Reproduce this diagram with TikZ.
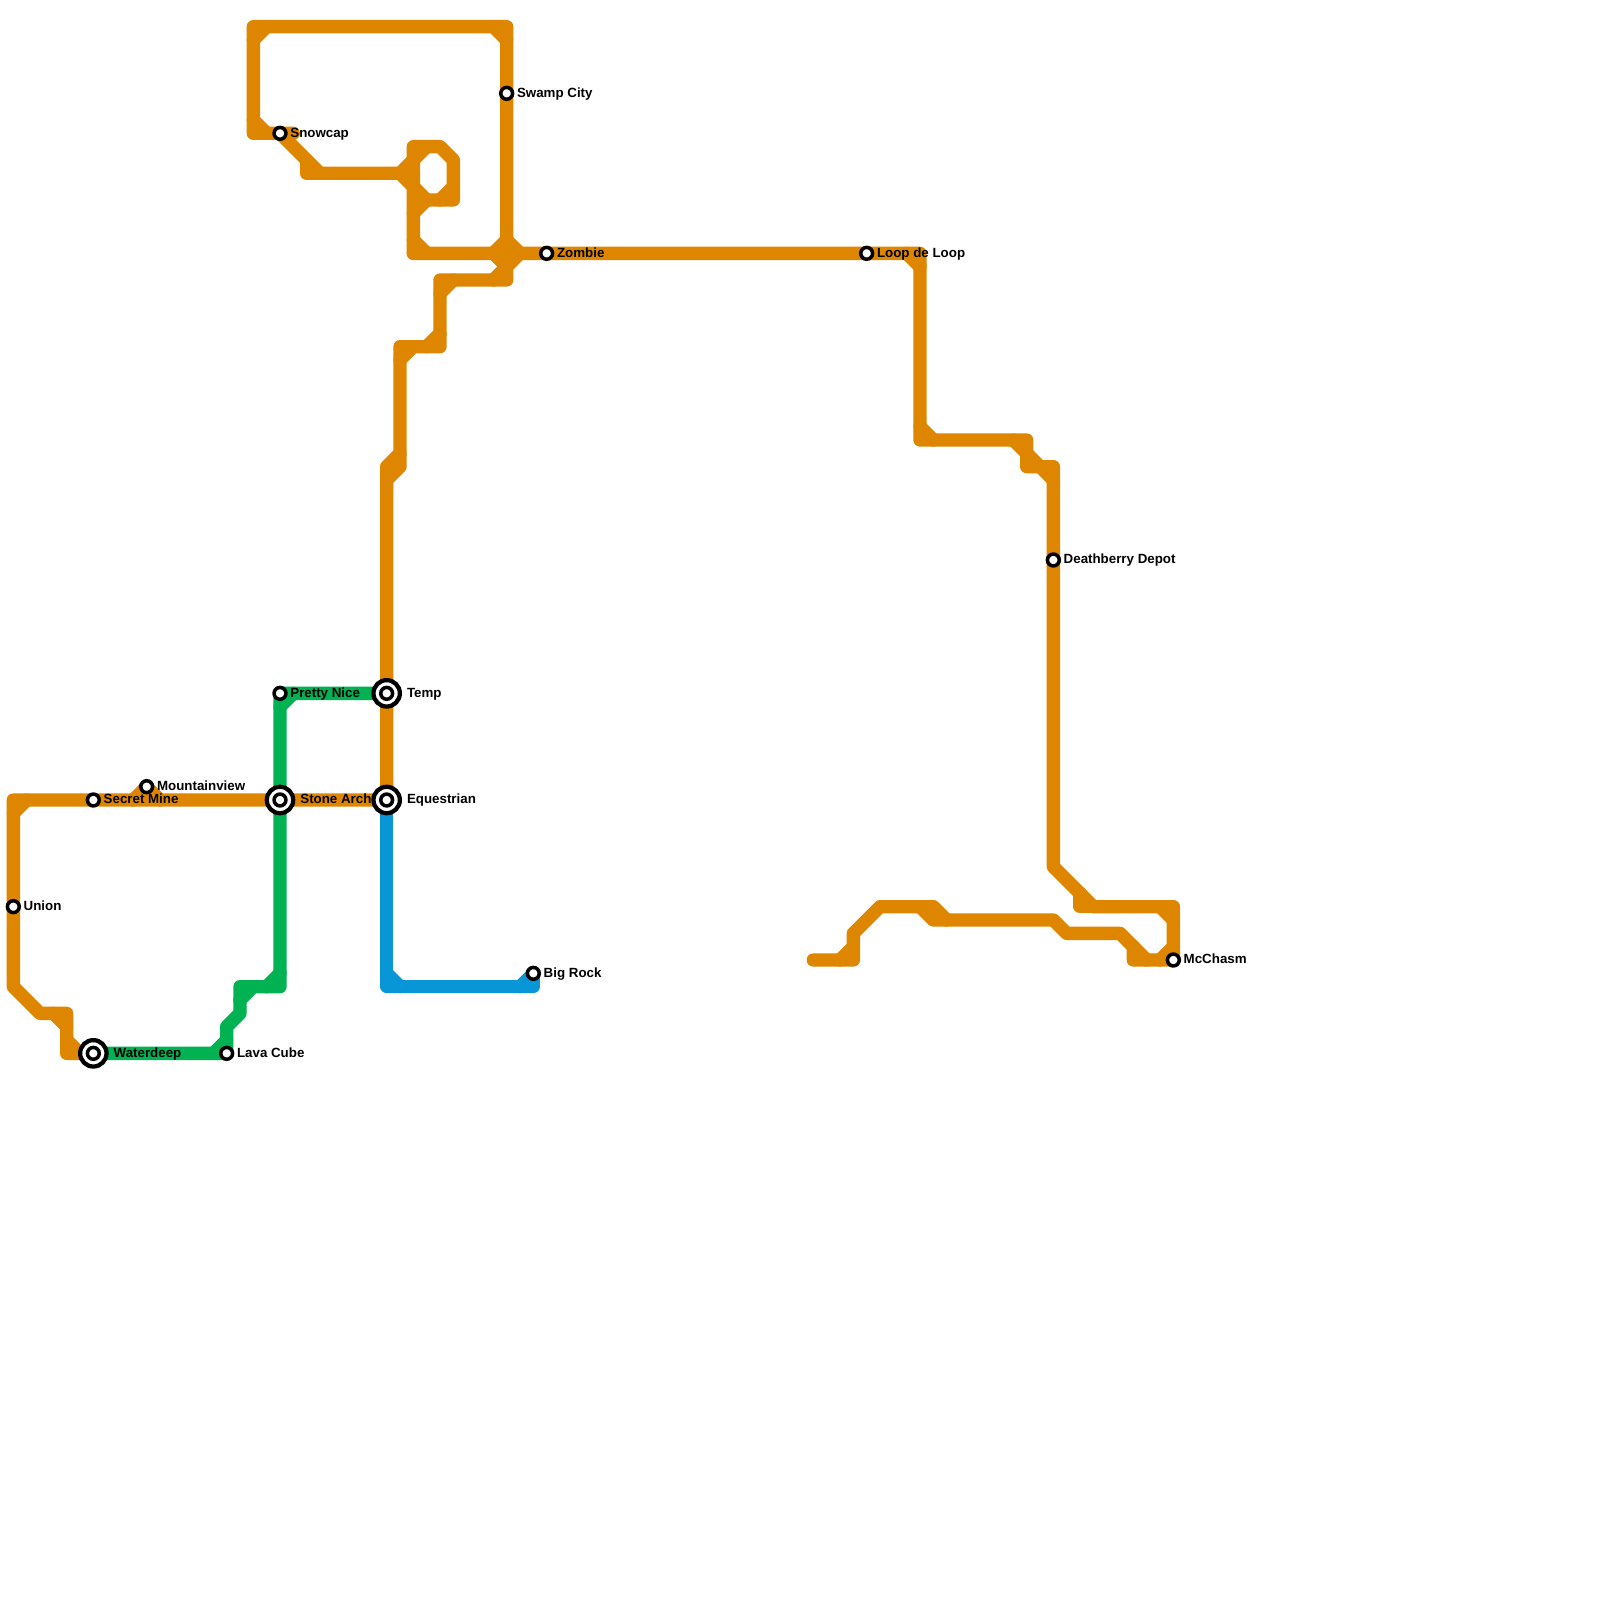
\documentclass[tikz,border=0pt]{standalone}
\usepackage{fontspec}
\setmainfont{Liberation Sans}
\usetikzlibrary{backgrounds}

\definecolor{Orange}{HTML}{DF8600}
\definecolor{Green}{HTML}{00B251}
\definecolor{Blue}{HTML}{0896D7}
\tikzstyle{Rail} = [line width=0.25cm,
                     line cap=round,
                     line join=round]
\tikzstyle{Stop} = [draw=black,
                     fill=white,
                     circle,
                     line width=0.066cm,
                     inner sep=0pt,
                     minimum size=0.222cm]
\tikzstyle{Hub} = [draw=black,
                     fill=white,
                     circle,
                     line width=0.08cm,
                     inner sep=0pt,
                     minimum size=0.495cm]
\tikzstyle{Name} = [anchor=base west,
                     inner sep=0pt,
                     text=black,
                     font=\bfseries\fontsize{7.11}{8}\selectfont]

\begin{document}
\begin{tikzpicture}[x=0.25cm, y=-0.25cm]

    \useasboundingbox (0, 0) rectangle (120, 120);

    % Stations
    \node (union) at (1, 68) [Stop]{};
    \node (secretMine) at (7, 60) [Stop]{};
    \node (mountainview) at (11, 59) [Stop]{};
    \node (snowcap) at (21, 10) [Stop]{};
    \node (lavaCube) at (17, 79) [Stop]{};
    \node (prettyNice) at (21, 52) [Stop]{};
    \node (bigRock) at (40, 73) [Stop]{};
    \node (swampCity) at (38, 7) [Stop]{};
    \node (zombie) at (41, 19) [Stop]{};
    \node (loopDeLoop) at (65, 19) [Stop]{};
    \node (deathberry) at (79, 42) [Stop]{};
    \node (mcChasm) at (88, 72) [Stop]{};

    % Interchanges
    \node (waterdeep) at (7, 79) [Hub]{};
    \node (stoneArch) at (21, 60) [Hub]{};
    \node (temp) at (29, 52) [Hub]{};
    \node (equestrian) at (29, 60) [Hub]{};
    \node (waterdeepCore) at (7, 79) [Stop]{};
    \node (stoneArchCore) at (21, 60) [Stop]{};
    \node (tempCore) at (29, 52) [Stop]{};
    \node (equestrianCore) at (29, 60) [Stop]{};

    % Labels
    \node (unionName) at (1.75, 68.28) [Name]{Union};
    \node (secretMineName) at (7.75, 60.28) [Name]{Secret Mine};
    \node (mountainviewName) at (11.75, 59.28) [Name]{Mountainview};
    \node (snowcapName) at (21.75, 10.28) [Name]{Snowcap};
    \node (lavaCubeName) at (17.75, 79.28) [Name]{Lava Cube};
    \node (prettyNiceName) at (21.75, 52.28) [Name]{Pretty Nice};
    \node (bigRockName) at (40.75, 73.28) [Name]{Big Rock};
    \node (swampCityName) at (38.75, 7.28) [Name]{Swamp City};
    \node (zombieName) at (41.75, 19.28) [Name]{Zombie};
    \node (loopDeLoopName) at (65.75, 19.28) [Name]{Loop de Loop};
    \node (deathberryName) at (79.75, 42.28) [Name]{Deathberry Depot};
    \node (mcChasmName) at (88.75, 72.28) [Name]{McChasm};
    \node (waterdeepName) at (8.5, 79.28) [Name]{Waterdeep};
    \node (stoneArchName) at (22.5, 60.28) [Name]{Stone Arch};
    \node (tempName) at (30.5, 52.28) [Name]{Temp};
    \node (equestrianName) at (30.5, 60.28) [Name]{Equestrian};

    \begin{scope}[on background layer]

    % Orange line, west side
    \draw [Rail, Orange] (waterdeep.center) -- (5, 79) -- (5, 76) -- (3, 76) -- (1, 74) -- (union.center) -- (1, 60)
        -- (secretMine.center) -- (stoneArch.center) -- (equestrian.center) -- (temp.center) -- (29, 36) -- (30, 35)
        -- (30, 26) -- (33, 26) -- (33, 21) -- (38, 21) -- (swampCity.center) -- (38, 2) -- (19, 2) -- (19, 10)
        -- (snowcap.center) -- (22, 10);
    \draw [Rail, Orange] (4, 76) -- (5, 77);
    \draw [Rail, Orange] (5, 78) -- (6, 79);
    \draw [Rail, Orange] (1, 61) -- (2, 60);
    \draw [Rail, Orange] (10, 60) -- (mountainview.center) -- (12, 60);
    \draw [Rail, Orange] (30, 34) -- (29, 35) -- (29, 36);
    \draw [Rail, Orange] (30, 27) -- (31, 26);
    \draw [Rail, Orange] (32, 26) -- (33, 25);
    \draw [Rail, Orange] (33, 22) -- (34, 21);
    \draw [Rail, Orange] (37, 21) -- (38, 20);
    \draw [Rail, Orange] (37, 2) -- (38, 3);
    \draw [Rail, Orange] (19, 3) -- (20, 2);
    \draw [Rail, Orange] (19, 9) -- (20, 10);

    % Orange line, small loop
    \draw [Rail, Orange] (snowcap.center) -- (24, 13) -- (30, 13) -- (31, 12);
    \draw [Rail, Orange] (23, 12) -- (23, 13) -- (24, 13);
    \draw [Rail, Orange] (30, 13) -- (31, 14);
    \draw [Rail, Orange] (31, 19) -- (31, 11) -- (33, 11) -- (34, 12) -- (34, 15) -- (32, 15);
    \draw [Rail, Orange] (31, 12) -- (32, 11);
    \draw [Rail, Orange] (33, 15) -- (34, 14);
    \draw [Rail, Orange] (31, 14) -- (32, 15) -- (31, 16);
    \draw [Rail, Orange] (31, 18) -- (32, 19);

    % Orange line, east side
    \draw [Rail, Orange] (31, 19) -- (zombie.center) -- (loopDeLoop.center) -- (69, 19) -- (69, 33) -- (77, 33) -- (77, 35)
        -- (79, 35) -- (deathberry.center) -- (79, 65) -- (82, 68) -- (88, 68) -- (mcChasm.center) -- (85, 72) -- (85, 71);
    \draw [Rail, Orange] (37, 19) -- (38, 18) -- (39, 19) -- (38, 20) -- (37, 19);
    \draw [Rail, Orange] (68, 19) -- (69, 20);
    \draw [Rail, Orange] (69, 32) -- (70, 33);
    \draw [Rail, Orange] (76, 33) -- (77, 34) -- (78, 35) -- (79, 36);
    \draw [Rail, Orange] (81, 67) -- (81, 68) -- (82, 68);
    \draw [Rail, Orange] (87, 68) -- (88, 69);
    \draw [Rail, Orange] (88, 71) -- (87, 72);

    % Orange line, south branch
    \draw [Rail, Orange] (61, 72) -- (64, 72) -- (64, 70) -- (66, 68) -- (70, 68) -- (71, 69) -- (79, 69) -- (80, 70)
        -- (84, 70) -- (86, 72);
    \draw [Rail, Orange] (63, 72) -- (64, 71);
    \draw [Rail, Orange] (69, 68) -- (70, 69) -- (71, 69);

    % Green line
    \draw [Rail, Green] (waterdeep.center) -- (lavaCube.center) -- (17, 77) -- (18, 76) -- (18, 74) -- (21, 74)
        -- (stoneArch.center) -- (prettyNice.center) -- (temp.center);
    \draw [Rail, Green] (16, 79) -- (17, 78);
    \draw [Rail, Green] (18, 75) -- (19, 74);
    \draw [Rail, Green] (20, 74) -- (21, 73);
    \draw [Rail, Green] (21, 53) -- (22, 52);

    % Blue line
    \draw [Rail, Blue] (equestrian.center) -- (29, 74) -- (40, 74) -- (bigRock.center);
    \draw [Rail, Blue] (29, 73) -- (30, 74);
    \draw [Rail, Blue] (39, 74) -- (bigRock.center);

    \end{scope}

\end{tikzpicture}
\end{document}
